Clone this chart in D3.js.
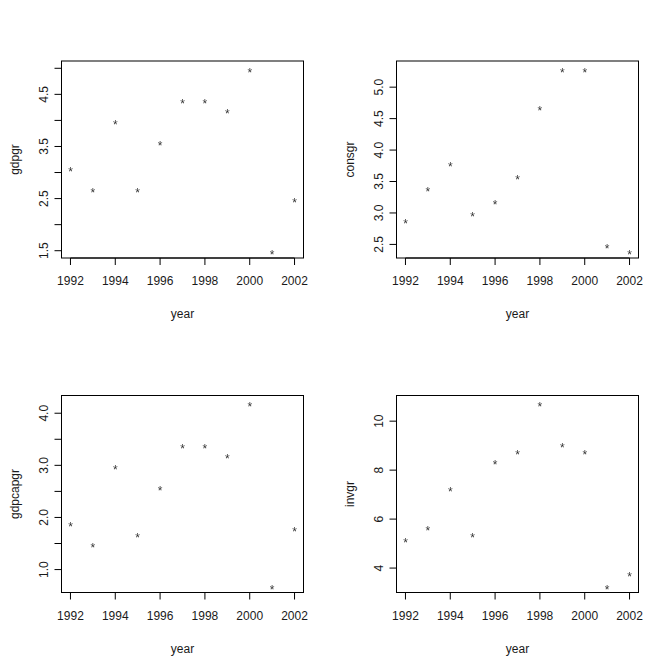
<!DOCTYPE html>
<html>
<head>
<meta charset="utf-8">
<script src="https://cdn.jsdelivr.net/npm/d3@7"></script>
<style>
  body { margin: 0; background: #fff; }
  text { font-family: "Liberation Sans", Arial, sans-serif; fill: #1a1a1a; }
  .pts { opacity: 0.99; will-change: opacity; }
</style>
</head>
<body>
<div class="container"></div>
<script>
const width = 670, height = 669;

// data
const years = [1992, 1993, 1994, 1995, 1996, 1997, 1998, 1999, 2000, 2001, 2002];
const gdpgr = [3.1, 2.7, 4.0, 2.7, 3.6, 4.4, 4.4, 4.2, 5.0, 1.5, 2.5];
const consgr = [2.9, 3.4, 3.8, 3.0, 3.2, 3.6, 4.7, 5.3, 5.3, 2.5, 2.4];
const gdpcapgr = [1.9, 1.5, 3.0, 1.7, 2.6, 3.4, 3.4, 3.2, 4.2, 0.7, 1.8];
const invgr = [5.2, 5.7, 7.3, 5.4, 8.4, 8.8, 10.75, 9.1, 8.8, 3.3, 3.8];

const xTicks = [1992, 1994, 1996, 1998, 2000, 2002];
const gdpgrTicks = [1.5, 2.0, 2.5, 3.0, 3.5, 4.0, 4.5, 5.0];
const gdpgrLabels = ["1.5", "", "2.5", "", "3.5", "", "4.5", ""];
const consgrTicks = [2.5, 3.0, 3.5, 4.0, 4.5, 5.0];
const consgrLabels = ["2.5", "3.0", "3.5", "4.0", "4.5", "5.0"];
const gdpcapgrTicks = [1.0, 1.5, 2.0, 2.5, 3.0, 3.5, 4.0];
const gdpcapgrLabels = ["1.0", "", "2.0", "", "3.0", "", "4.0"];
const invgrTicks = [4, 6, 8, 10];
const invgrLabels = ["4", "6", "8", "10"];

const panels = [
  {name: "gdpgr", values: gdpgr, ticks: gdpgrTicks, labels: gdpgrLabels, col: 0, row: 0},
  {name: "consgr", values: consgr, ticks: consgrTicks, labels: consgrLabels, col: 1, row: 0},
  {name: "gdpcapgr", values: gdpcapgr, ticks: gdpcapgrTicks, labels: gdpcapgrLabels, col: 0, row: 1},
  {name: "invgr", values: invgr, ticks: invgrTicks, labels: invgrLabels, col: 1, row: 1}
];

const cellW = 335, cellH = 334.5;
const margin = {top: 61, right: 31.5, bottom: 76.5, left: 61.5};
const tickLen = 7;

const svg = d3.select(".container")
    .append("svg")
    .attr("width", width)
    .attr("height", height);

// R style 4% padding on both ends
const pad = ext => {
  const r = ext[1] - ext[0];
  return [ext[0] - r * 0.04, ext[1] + r * 0.04];
};

panels.forEach(p => {
  const g = svg.append("g")
      .attr("transform", `translate(${p.col * cellW},${p.row * cellH})`);
  const x = d3.scaleLinear().domain(pad(d3.extent(years)))
      .range([margin.left, cellW - margin.right]);
  const y = d3.scaleLinear().domain(pad(d3.extent(p.values)))
      .range([cellH - margin.bottom, margin.top]);

  const x0 = margin.left, x1 = cellW - margin.right;
  const y0 = margin.top, y1 = cellH - margin.bottom;

  // x axis
  const xa = g.append("g").attr("transform", `translate(0,${y1})`);
  xa.append("line")
      .attr("x1", x(xTicks[0])).attr("x2", x(xTicks[xTicks.length - 1]))
      .attr("stroke", "#000");
  xa.selectAll(".tick").data(xTicks).enter().append("line")
      .attr("x1", d => x(d)).attr("x2", d => x(d))
      .attr("y1", 0).attr("y2", tickLen)
      .attr("stroke", "#000");
  xa.selectAll(".lab").data(xTicks).enter().append("text")
      .attr("x", d => x(d)).attr("y", 27)
      .attr("text-anchor", "middle")
      .style("font-size", "12px")
      .text(d => d);

  // y axis
  const ya = g.append("g").attr("transform", `translate(${x0},0)`);
  ya.append("line")
      .attr("y1", y(p.ticks[0])).attr("y2", y(p.ticks[p.ticks.length - 1]))
      .attr("stroke", "#000");
  ya.selectAll(".tick").data(p.ticks).enter().append("line")
      .attr("y1", d => y(d)).attr("y2", d => y(d))
      .attr("x1", 0).attr("x2", -tickLen)
      .attr("stroke", "#000");
  ya.selectAll(".lab").data(p.ticks).enter().append("text")
      .attr("transform", d => `translate(-14,${y(d)}) rotate(-90)`)
      .attr("text-anchor", "middle")
      .style("font-size", "12px")
      .text((d, i) => p.labels[i]);

  // box
  g.append("rect")
      .attr("x", x0).attr("y", y0)
      .attr("width", x1 - x0).attr("height", y1 - y0)
      .attr("fill", "none").attr("stroke", "#000");

  // axis titles
  g.append("text")
      .attr("x", (x0 + x1) / 2).attr("y", y1 + 60)
      .attr("text-anchor", "middle")
      .style("font-size", "12px")
      .text("year");
  g.append("text")
      .attr("transform", `translate(${x0 - 43},${(y0 + y1) / 2}) rotate(-90)`)
      .attr("text-anchor", "middle")
      .style("font-size", "12px")
      .text(p.name);

  // points, drawn as "*" characters like pch="*"
  g.append("g").attr("class", "pts")
    .selectAll("text").data(years).enter().append("text")
      .attr("x", d => x(d))
      .attr("y", (d, i) => y(p.values[i]) + 8.5)
      .attr("text-anchor", "middle")
      .style("font-size", "12px")
      .style("fill", "#333")
      .text("*");
});
</script>
</body>
</html>
